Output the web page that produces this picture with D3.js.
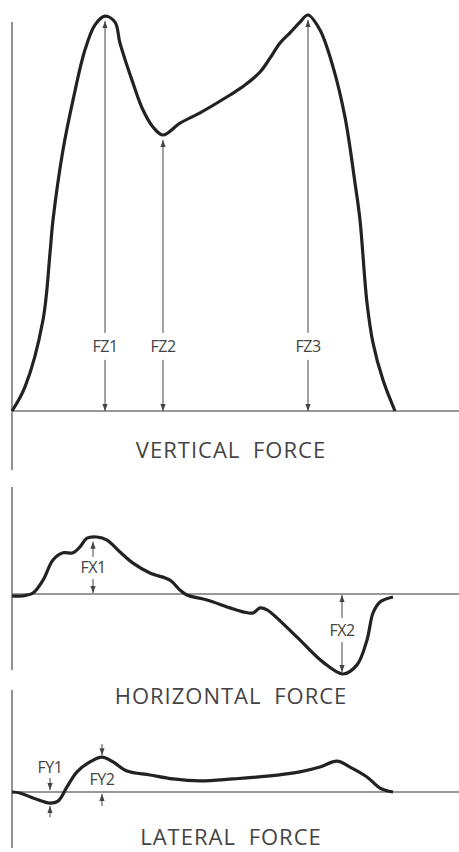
<!doctype html>
<html>
<head>
<meta charset="UTF-8">
<title>Force curves</title>
<script src="https://cdnjs.cloudflare.com/ajax/libs/d3/7.8.5/d3.min.js"></script>
<style>
  body { margin: 0; background: #fff; }
  svg { display: block; }
</style>
</head>
<body>
<svg id="chart"></svg>
<script>
(function(){
  'use strict'

  // time in % of stance, force in % of peak vertical force
  const verticalForce = [[0,0],[3.25,6.1],[7.75,23],[9.5,39.9],[10.25,48.2],[12.75,65.9],[15.25,78.5],
    [18.25,91.2],[20.75,97.5],[23.25,99.7],[25.75,98.2],[27,92.9],[30.25,82.8],[32.75,76],[35.25,71.7],
    [37.75,69.7],[42,72.7],[47,75.3],[54.5,79.8],[58.25,82.3],[62,85.6],[64.5,89.1],[67,92.9],[69.5,95.5],
    [72,98.2],[74,100],[77,96.2],[80.25,86.9],[83.25,74.2],[85.75,57.6],[87,48.2],[88.75,27.3],[90.25,17.2],
    [92.75,7.8],[95.75,0]];
  const horizontalForce = [[0,-0.5],[2.5,-0.5],[5.25,0.25],[7.75,3.5],[10.25,8.6],[12.75,10.4],[15.25,10.4],
    [17,11.9],[18.75,14.1],[21.25,14.4],[23.75,13.6],[27,10.6],[30.25,7.8],[34.5,5.3],[39.5,3.5],[42,1],
    [43.75,-0.25],[48.75,-1.5],[54.5,-3.5],[57.75,-4.5],[60.25,-4.8],[62,-3.5],[63.75,-4],[71.25,-10.9],
    [77.75,-17.2],[82.75,-20.2],[86.25,-17.9],[88.75,-11.6],[90.25,-4.8],[92,-2],[95.25,-0.75]];
  const lateralForce = [[0,0],[2,-0.25],[5.25,-1.5],[9.5,-2.8],[11.5,-2.3],[13.75,1.3],[16.25,5.1],[19.5,7.6],
    [22.5,8.8],[25.25,7.6],[28.75,5.3],[34.5,4.3],[40.25,3.3],[47,2.8],[55.25,3.3],[63.75,4],[72,5.1],
    [77,6.3],[81.25,7.8],[84.5,6.3],[88.75,3.8],[92,1],[95.25,0]];

  const panelTitles = ['VERTICAL FORCE', 'HORIZONTAL FORCE', 'LATERAL FORCE'];
  // label, time, force at the curve, force where the label sits
  const verticalMarks = [['FZ1',23.25,99.7,16.2],['FZ2',37.75,69.7,16.2],['FZ3',74,100,16.2]];
  const horizontalMarks = [['FX1',20.25,14.2,6.6],['FX2',82.5,-20.2,-9.1]];
  const lateralMarks = [['FY1',9.5,-2.8,6.3],['FY2',22.5,8.8,3.2]];

  const W = 459, H = 852;
  const svg = d3.select('#chart').attr('width', W).attr('height', H);

  svg.append('defs').append('marker')
     .attr('id', 'head')
     .attr('viewBox', '0 -3 8 6')
     .attr('refX', 8).attr('refY', 0)
     .attr('markerUnits', 'userSpaceOnUse')
     .attr('markerWidth', 7).attr('markerHeight', 6)
     .attr('orient', 'auto')
    .append('path')
     .attr('d', 'M0,-3L8,0L0,3Z')
     .attr('fill', '#444');

  const x = d3.scaleLinear().domain([0, 100]).range([12, 412]);
  const yV = d3.scaleLinear().domain([0, 100]).range([411, 15]);
  const yH = d3.scaleLinear().domain([-25, 25]).range([693, 495]);
  const yL = d3.scaleLinear().domain([-25, 25]).range([891, 693]);

  const panels = [
    {y: yV, data: verticalForce, axis: [470, 22], title: 458},
    {y: yH, data: horizontalForce, axis: [670, 487], title: 704},
    {y: yL, data: lateralForce, axis: [848, 690], title: 845}
  ];

  panels.forEach(function(p, i){
    const g = svg.append('g');
    // left axis
    g.append('line')
     .attr('x1', x(0)).attr('x2', x(0))
     .attr('y1', p.axis[0]).attr('y2', p.axis[1])
     .attr('stroke', '#777').attr('stroke-width', 1.6);
    // zero line
    g.append('line')
     .attr('x1', x(0)).attr('x2', W)
     .attr('y1', p.y(0)).attr('y2', p.y(0))
     .attr('stroke', '#777').attr('stroke-width', 1.4);

    const line = d3.line()
        .x(function(d){ return x(d[0]); })
        .y(function(d){ return p.y(d[1]); })
        .curve(d3.curveCatmullRom.alpha(0.5));

    g.append('path')
     .datum(p.data)
     .attr('d', line)
     .attr('fill', 'none')
     .attr('stroke', '#222')
     .attr('stroke-width', 3.2)
     .attr('stroke-linejoin', 'round');

    g.append('text')
     .attr('x', 231).attr('y', p.title)
     .attr('text-anchor', 'middle')
     .attr('font-family', 'Open Sans, sans-serif')
     .attr('font-size', 22)
     .attr('letter-spacing', 1)
     .attr('word-spacing', 6)
     .attr('fill', '#444')
     .text(panelTitles[i]);
  });

  function arrow(x1, y1, x2, y2){
    svg.append('line')
       .attr('x1', x1).attr('y1', y1).attr('x2', x2).attr('y2', y2)
       .attr('stroke', '#444').attr('stroke-width', 1)
       .attr('marker-end', 'url(#head)');
  }
  function label(t, px, py){
    svg.append('text')
       .attr('x', px).attr('y', py)
       .attr('dy', '0.35em')
       .attr('text-anchor', 'middle')
       .attr('font-family', 'Open Sans, sans-serif')
       .attr('font-size', 16)
       .attr('letter-spacing', -0.5)
       .attr('fill', '#444')
       .text(t);
  }

  // vertical force: long arrows from the label up to the peak and down to zero
  verticalMarks.forEach(function(m){
    const cx = x(m[1]), ly = yV(m[3]);
    label(m[0], cx, ly);
    arrow(cx, ly - 14, cx, yV(m[2]) + 5);
    arrow(cx, ly + 13, cx, yV(0));
  });

  // horizontal force: arrows between the curve and zero
  const fx1 = horizontalMarks[0], fx2 = horizontalMarks[1];
  label(fx1[0], x(fx1[1]), yH(fx1[3]));
  arrow(x(fx1[1]), yH(fx1[3]) - 11, x(fx1[1]), yH(fx1[2]) + 4);
  arrow(x(fx1[1]), yH(fx1[3]) + 11, x(fx1[1]), yH(0) - 1);
  label(fx2[0], x(fx2[1]), yH(fx2[3]));
  arrow(x(fx2[1]), yH(fx2[3]) - 12, x(fx2[1]), yH(0) + 1);
  arrow(x(fx2[1]), yH(fx2[3]) + 12, x(fx2[1]), yH(fx2[2]) - 2);

  // lateral force: short arrows from outside
  const fy1 = lateralMarks[0], fy2 = lateralMarks[1];
  label(fy1[0], x(fy1[1]), yL(fy1[3]));
  arrow(x(fy1[1]), yL(0) - 14, x(fy1[1]), yL(0) - 2);
  arrow(x(fy1[1]), yL(fy1[2]) + 14, x(fy1[1]), yL(fy1[2]) + 3);
  label(fy2[0], x(fy2[1]), yL(fy2[3]));
  arrow(x(fy2[1]), yL(fy2[2]) - 13, x(fy2[1]), yL(fy2[2]) - 2);
  arrow(x(fy2[1]), yL(0) + 14, x(fy2[1]), yL(0) + 2);

})();
</script>
</body>
</html>
